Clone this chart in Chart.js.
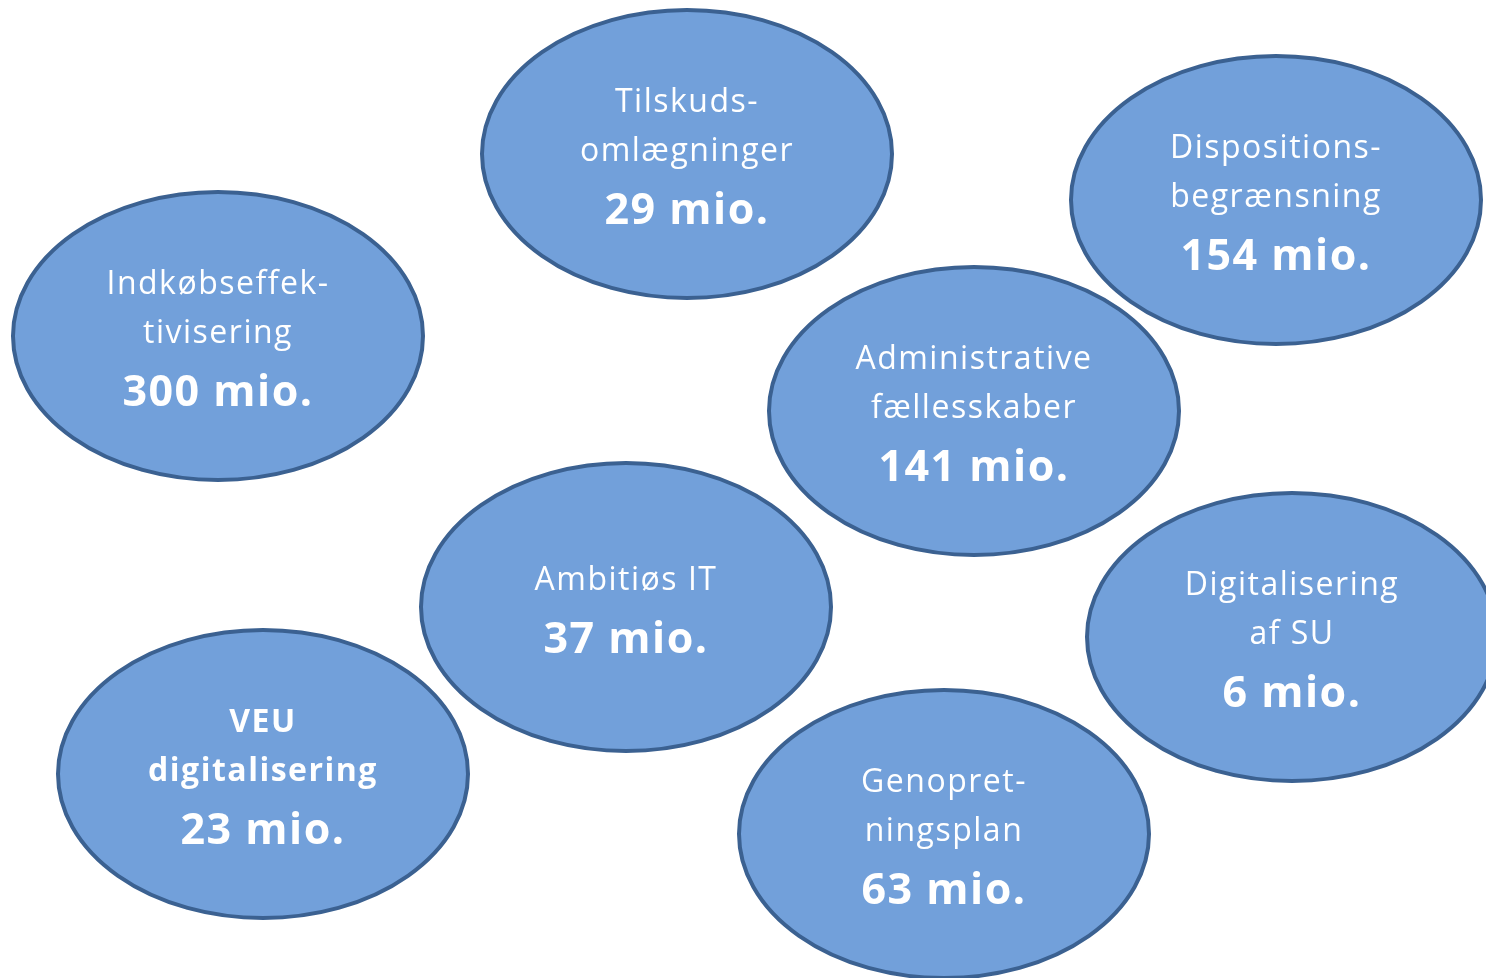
<!DOCTYPE html>
<html>
<head>
<meta charset="utf-8">
<script src="https://cdn.jsdelivr.net/npm/chart.js@4/dist/chart.umd.min.js"></script>
<style>
  html, body { margin: 0; padding: 0; background: #fff; }
  #wrap { width: 1486px; height: 978px; }
</style>
</head>
<body>
<div id="wrap"><canvas id="myChart"></canvas></div>
<script>
// Items of the diagram
const categories = [
    ['Tilskuds-', 'omlægninger'],
    ['Dispositions-', 'begrænsning'],
    ['Indkøbseffek-', 'tivisering'],
    ['Administrative', 'fællesskaber'],
    ['Ambitiøs IT'],
    ['Digitalisering', 'af SU'],
    ['VEU', 'digitalisering'],
    ['Genopret-', 'ningsplan']
];
const values = [29, 154, 300, 141, 37, 6, 23, 63];
const unit = 'mio.';
// bubble centres (layout units, 0..1486 x 0..978)
const posX = [687, 1276, 218, 974, 626, 1292, 263, 944];
const posY = [154, 200, 336, 411, 607, 637, 774, 834];
const boldLabel = [false, false, false, false, false, false, true, false];

const ctx = document.getElementById('myChart').getContext('2d');

const FONT = '"Open Sans", "DejaVu Sans", sans-serif';
const RX = 205, RY = 144;

const ellipsePlugin = {
    id: 'ellipses',
    afterDatasetsDraw(chart) {
        const c = chart.ctx;
        const xs = chart.scales.x, ys = chart.scales.y;
        const rx = xs.getPixelForValue(RX) - xs.getPixelForValue(0);
        const ry = Math.abs(ys.getPixelForValue(RY) - ys.getPixelForValue(0));
        const meta = chart.getDatasetMeta(0);
        meta.data.forEach((pt, i) => {
            c.save();
            c.beginPath();
            c.ellipse(pt.x, pt.y, rx, ry, 0, 0, Math.PI * 2);
            c.fillStyle = '#72a0da';
            c.fill();
            c.lineWidth = 4;
            c.strokeStyle = '#3b6191';
            c.stroke();

            // text block
            const lines = categories[i];
            const lineH = 49, gap = 63, cap = 28;
            const h = (lines.length - 1) * lineH + gap + cap;
            let b = pt.y - h / 2 + cap;
            c.fillStyle = '#ffffff';
            c.textAlign = 'center';
            c.textBaseline = 'alphabetic';
            c.letterSpacing = '1.5px';
            c.font = (boldLabel[i] ? 'bold 32px ' : '32px ') + FONT;
            lines.forEach((t, k) => {
                c.fillText(t, pt.x, b + k * lineH);
            });
            c.letterSpacing = '1.5px';
            c.font = 'bold 43px ' + FONT;
            c.fillText(values[i] + ' ' + unit, pt.x, b + (lines.length - 1) * lineH + gap);
            c.restore();
        });
    }
};

const config = {
    type: 'scatter',
    data: {
        datasets: [{
            data: posX.map((x, i) => ({x: x, y: posY[i]})),
            pointRadius: 0,
            pointHoverRadius: 0
        }]
    },
    options: {
        responsive: true,
        maintainAspectRatio: false,
        animation: false,
        layout: { padding: 0 },
        scales: {
            x: { display: false, min: 0, max: 1486 },
            y: { display: false, min: 0, max: 978, reverse: true }
        },
        plugins: {
            legend: { display: false },
            tooltip: { enabled: false }
        }
    },
    plugins: [ellipsePlugin]
};

const myChart = new Chart(ctx, config);
</script>
</body>
</html>
